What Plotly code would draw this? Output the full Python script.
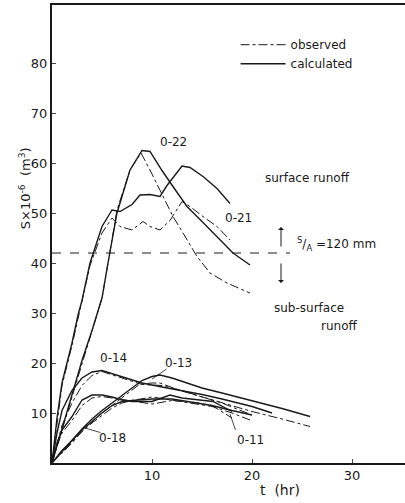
import plotly.graph_objects as go

# ---------------- data ----------------
# surface runoff
o22_calc_t = [0, 1, 2, 3, 4, 5, 5.6, 6.5, 7.8, 9, 9.8, 11, 12.2, 13.5, 15, 16.5, 18.1, 19.8]
o22_calc_s = [0, 7, 13.5, 20.5, 26.5, 33, 40, 50, 58.6, 62.5, 62.3, 58.5, 55, 51.3, 48.3, 45.3, 42, 39.6]
o22_obs_t = [0, 1, 2, 3, 4, 5, 5.6, 6.5, 7.8, 8.9, 9.8, 12.1, 13.1, 14.5, 15.8, 17.5, 19.8]
o22_obs_s = [0, 6.5, 13, 20, 26, 33, 40, 50.6, 58.6, 62, 58.6, 49.3, 46, 41.3, 38, 36, 34]

o21_calc_t = [0, 0.5, 1, 2, 2.6, 3, 3.8, 5, 6, 6.8, 8, 8.8, 9.8, 10.8, 11.5, 13, 13.8, 15.1, 16.5, 17.8]
o21_calc_s = [0, 9, 16, 24, 29.6, 32.5, 40, 47.3, 50.6, 50.3, 51.7, 53.6, 53.7, 53.3, 55.5, 59.4, 59.1, 57.3, 54.9, 51.9]
o21_obs_t = [0, 0.5, 1, 2, 2.6, 3, 3.8, 5, 6, 6.8, 8, 9.1, 9.8, 10.8, 11.8, 13, 13.8, 15.1, 16.5, 17.8]
o21_obs_s = [0, 8, 15.5, 23.5, 29, 32, 39.5, 46, 49, 47.3, 46.6, 48.3, 47.3, 46.6, 48.5, 52.3, 51.3, 49.3, 47.3, 44.6]

# sub-surface runoff
o14_calc_t = [0, 0.5, 1, 2, 3, 4, 5, 7, 9, 11, 13, 15, 17, 20, 22]
o14_calc_s = [0, 6, 10.5, 14.5, 17, 18.2, 18.5, 17.3, 16, 15.2, 14.5, 13.7, 12.8, 11.3, 10]
o14_obs_t = [0, 0.5, 1, 2, 3, 4, 5, 7, 9, 11, 13, 15, 17, 20]
o14_obs_s = [0, 4, 7.5, 12, 15.5, 17.5, 18.3, 17, 15.7, 15.5, 14.5, 13.2, 12, 9.6]

o13_calc_t = [0, 1, 2, 3, 4, 5, 6, 7, 8, 9, 10, 10.8, 12, 13, 15, 17, 20, 23, 25.8]
o13_calc_s = [0, 2.3, 4.5, 6.8, 8.8, 10.5, 12, 13.5, 15, 16.5, 17.3, 17.6, 17, 16.3, 15, 14, 12.5, 10.9, 9.3]
o13_obs_t = [0, 1, 2, 3, 4, 5, 6, 7, 8, 8.8, 10, 10.8, 12.8, 15, 17, 20, 23, 25.8]
o13_obs_s = [0, 2, 4, 6.3, 8.3, 10, 11.5, 13, 14.5, 15.8, 16, 16, 14.5, 13.2, 12, 10.3, 8.8, 7.3]

o11_calc_t = [0, 0.5, 1, 2, 3, 4, 5, 6, 7, 8, 10, 11.8, 13, 15, 16.1, 18]
o11_calc_s = [0, 4, 6.6, 9.3, 12.6, 13.6, 13.6, 13.2, 12.6, 12.3, 12.3, 13.6, 13, 12.5, 12.3, 10.3]
o11_obs_t = [0, 0.5, 1, 2, 3, 4, 5, 6, 8, 10, 12, 14, 16, 18]
o11_obs_s = [0, 3.5, 6, 8.5, 11.5, 13, 13.3, 13, 12.5, 11.8, 12.5, 12.2, 11.5, 9]

o18_calc_t = [0, 1, 2, 3, 4, 5, 6, 7, 8, 10, 12, 14, 16, 18, 20]
o18_calc_s = [0, 2.5, 4.5, 6.6, 8.3, 10, 11.5, 12.3, 12.5, 12.8, 12.8, 12.2, 11.5, 10.5, 9.6]
o18_obs_t = [0, 1, 2, 3, 4, 5, 6, 7, 8, 10, 12, 14, 16, 18, 19.8]
o18_obs_s = [0, 2.2, 4.2, 6.3, 8, 9.5, 11, 12, 12.5, 13.2, 12.6, 12, 11.3, 10, 8.6]

threshold_s = 42          # S/A = 120 mm
threshold_t_end = 23.8

x_ticks = [10, 20, 30]
y_ticks = [10, 20, 30, 40, 50, 60, 70, 80]

FONT = "DejaVu Sans"
INK = "#1a1a1a"

fig = go.Figure()

calc_sets = [(o22_calc_t, o22_calc_s), (o21_calc_t, o21_calc_s), (o14_calc_t, o14_calc_s),
             (o13_calc_t, o13_calc_s), (o11_calc_t, o11_calc_s), (o18_calc_t, o18_calc_s)]
obs_sets = [(o22_obs_t, o22_obs_s), (o21_obs_t, o21_obs_s), (o14_obs_t, o14_obs_s),
            (o13_obs_t, o13_obs_s), (o11_obs_t, o11_obs_s), (o18_obs_t, o18_obs_s)]

for i, (t, s) in enumerate(obs_sets):
    fig.add_trace(go.Scatter(x=t, y=s, mode="lines", name="observed", legendgroup="obs",
                             showlegend=(i == 0), legendrank=1,
                             line=dict(color=INK, width=1, dash="dashdot")))
for i, (t, s) in enumerate(calc_sets):
    fig.add_trace(go.Scatter(x=t, y=s, mode="lines", name="calculated", legendgroup="calc",
                             showlegend=(i == 0), legendrank=2,
                             line=dict(color=INK, width=1.4)))

# threshold line
fig.add_trace(go.Scatter(x=[0, threshold_t_end], y=[threshold_s, threshold_s], mode="lines",
                         showlegend=False, line=dict(color=INK, width=1, dash="dash")))

ann_font = dict(family=FONT, size=12, color=INK)
labels = [
    ("0-22", 12.1, 64.2), ("0-21", 18.6, 49), ("surface runoff", 25.5, 57),
    ("sub-surface", 25.7, 31), ("runoff", 28.7, 27.4),
    ("0-14", 6.1, 21), ("0-13", 12.6, 20), ("0-18", 6.0, 5), ("0-11", 19.8, 4.6),
]
for txt, x, y in labels:
    fig.add_annotation(x=x, y=y, text=txt, showarrow=False, font=ann_font)

fig.add_annotation(x=28.4, y=43.8, text="<sup>S</sup>/<sub>A</sub> =120 mm", showarrow=False,
                   font=dict(family=FONT, size=12, color=INK))

# arrows around threshold
fig.add_annotation(x=22.9, y=47.2, ax=22.9, ay=43, axref="x", ayref="y", text="",
                   showarrow=True, arrowhead=1, arrowsize=1, arrowwidth=1, arrowcolor=INK)
fig.add_annotation(x=22.9, y=36, ax=22.9, ay=40.2, axref="x", ayref="y", text="",
                   showarrow=True, arrowhead=1, arrowsize=1, arrowwidth=1, arrowcolor=INK)

# leader lines
for (x0, y0, x1, y1) in [(11.6, 19, 10.0, 16.8), (5.0, 6.0, 3.3, 7.0), (18.4, 6.3, 17.8, 9.8)]:
    fig.add_annotation(x=x1, y=y1, ax=x0, ay=y0, axref="x", ayref="y", text="",
                       showarrow=True, arrowhead=0, arrowwidth=0.8, arrowcolor=INK)

# axis titles
fig.add_annotation(x=0.645, y=-0.06, xref="paper", yref="paper", yanchor="middle",
                   text="t  (hr)", showarrow=False, font=dict(family=FONT, size=14, color=INK))
fig.add_annotation(x=-0.105, y=0.6, xref="paper", yref="paper",
                   text="S×10<sup>-6</sup>  (m<sup>3</sup>)", textangle=-90,
                   showarrow=False, font=dict(family=FONT, size=13, color=INK))

fig.update_layout(
    width=405, height=503,
    margin=dict(l=52, r=0, t=5, b=40),
    paper_bgcolor="white", plot_bgcolor="white",
    font=dict(family=FONT, size=13, color=INK),
    legend=dict(x=0.52, y=0.945, xanchor="left", yanchor="top", bgcolor="rgba(0,0,0,0)",
                font=dict(family=FONT, size=12, color=INK), tracegroupgap=0,
                itemwidth=45, traceorder="normal"),
    xaxis=dict(range=[0, 35.3], tickvals=x_ticks, ticks="inside", ticklen=4,
               showline=True, linecolor=INK, linewidth=1.5, mirror=True, showgrid=False,
               zeroline=False, automargin=False, tickfont=dict(family=FONT, size=13, color=INK)),
    yaxis=dict(range=[0, 91.6], tickvals=y_ticks, ticks="inside", ticklen=4,
               showline=True, linecolor=INK, linewidth=2, showgrid=False, zeroline=False,
               automargin=False, tickfont=dict(family=FONT, size=13, color=INK)),
)

fig.write_html("out.html", config={"displayModeBar": False},
               post_script="document.body.style.margin='0';")
